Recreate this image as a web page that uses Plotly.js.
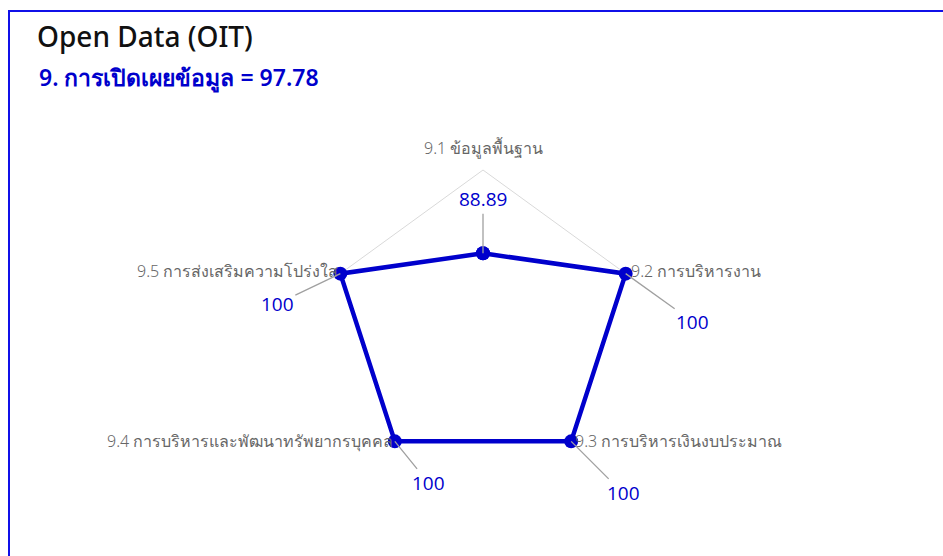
<!DOCTYPE html>
<html>
<head>
<meta charset="utf-8">
<script src="https://cdn.plot.ly/plotly-3.0.1.min.js"></script>
<style>
  html, body { margin: 0; padding: 0; background: #fff; }
  #chart { width: 943px; height: 556px; }
</style>
</head>
<body>
<div id="chart"></div>
<script>
// ---- data ----
const titleText = "Open Data (OIT)";
const subtitleText = "9. การเปิดเผยข้อมูล = 97.78";
const categories = [
  "9.1 ข้อมูลพื้นฐาน",
  "9.2 การบริหารงาน",
  "9.3 การบริหารเงินงบประมาณ",
  "9.4 การบริหารและพัฒนาทรัพยากรบุคคล",
  "9.5 การส่งเสริมความโปร่งใส"
];
const values = [88.89, 100, 100, 100, 100];
const valueLabels = ["88.89", "100", "100", "100", "100"];
const gridMax = 100;            // outer grid pentagon
const radialRange = [80, 101];  // small headroom so the line at 100 is not clipped

// ---- layout geometry (style) ----
const W = 943, H = 556;
const CX = 483, CY = 320, R100 = 150;
const Rfull = R100 * (radialRange[1] - radialRange[0]) / (gridMax - radialRange[0]);
const domX = [(CX - Rfull) / W, (CX + Rfull) / W];
const domY = [1 - (CY + Rfull) / H, 1 - (CY - Rfull) / H];
const BLUE = "#0000cc";

// label offsets in px (style, not data)
const labelOffsets = [[0, -54], [67, 48], [52, 52], [34, 42], [-63, 30]];
// category label placement (style)
const catPlace = [
  { xanchor: "center", yanchor: "middle", xshift: 0, yshift: 22 },
  { xanchor: "left", yanchor: "middle", xshift: 3, yshift: 3 },
  { xanchor: "left", yanchor: "middle", xshift: 2, yshift: 0 },
  { xanchor: "right", yanchor: "middle", xshift: 0, yshift: 0 },
  { xanchor: "right", yanchor: "middle", xshift: 0, yshift: 3 }
];

const gridTrace = {
  type: "scatterpolar",
  r: categories.map(() => gridMax).concat([gridMax]),
  theta: categories.concat([categories[0]]),
  mode: "lines",
  line: { color: "#d9d9d9", width: 1 },
  hoverinfo: "skip",
  showlegend: false
};

const trace = {
  type: "scatterpolar",
  r: values.concat([values[0]]),
  theta: categories.concat([categories[0]]),
  mode: "lines+markers",
  line: { color: BLUE, width: 4.5 },
  marker: { color: BLUE, size: 14 },
  cliponaxis: false,
  hoverinfo: "skip",
  showlegend: false
};

// compute positions from data via the polar geometry
const cx = (domX[0] + domX[1]) / 2 * W;
const cy = (1 - (domY[0] + domY[1]) / 2) * H;
const R = Math.min((domX[1] - domX[0]) * W, (domY[1] - domY[0]) * H) / 2;
function toPaper(v, i) {
  const ang = (90 - i * 360 / categories.length) * Math.PI / 180;
  const rp = (v - radialRange[0]) / (radialRange[1] - radialRange[0]) * R;
  return [(cx + rp * Math.cos(ang)) / W, 1 - (cy - rp * Math.sin(ang)) / H];
}

const annotations = [];
categories.forEach((c, i) => {
  const p = toPaper(gridMax, i);
  annotations.push(Object.assign({
    x: p[0], y: p[1], xref: "paper", yref: "paper",
    text: c, showarrow: false,
    font: { family: "Noto Sans, sans-serif", size: 16, color: "#666666", weight: 300 }
  }, catPlace[i]));
});
values.forEach((v, i) => {
  const p = toPaper(v, i);
  annotations.push({
    x: p[0], y: p[1], xref: "paper", yref: "paper",
    text: valueLabels[i],
    showarrow: true, arrowhead: 0, arrowwidth: 1.3, arrowcolor: "#a0a0a0",
    ax: labelOffsets[i][0], ay: labelOffsets[i][1],
    standoff: 0,
    font: { family: "Open Sans, sans-serif", size: 19, color: BLUE, weight: 500 }
  });
});

annotations.push({
  text: subtitleText,
  xref: "paper", yref: "paper",
  x: 37 / W, y: 1 - 77 / H, xanchor: "left", yanchor: "middle",
  showarrow: false,
  font: { family: "Noto Sans, sans-serif", size: 23, color: BLUE, weight: 600 }
});

const layout = {
  width: W, height: H,
  margin: { l: 0, r: 0, t: 0, b: 0 },
  paper_bgcolor: "#ffffff",
  title: {
    text: titleText,
    x: 37 / W, xref: "container", xanchor: "left",
    y: 1 - 37 / H, yref: "container", yanchor: "middle",
    font: { family: "Noto Sans, sans-serif", size: 28, color: "#111111", weight: 500 }
  },
  polar: {
    domain: { x: domX, y: domY },
    bgcolor: "#ffffff",
    gridshape: "linear",
    radialaxis: {
      visible: false, range: radialRange, showgrid: false, showline: false
    },
    angularaxis: {
      rotation: 90, direction: "clockwise",
      showgrid: false, showline: false, showticklabels: false,
      ticks: ""
    }
  },
  shapes: [{
    type: "rect", xref: "paper", yref: "paper",
    x0: 9 / W, x1: 1.05, y0: -0.05, y1: 1 - 11 / H,
    line: { color: "#1010e8", width: 2 }
  }],
  annotations: annotations
};

Plotly.newPlot("chart", [gridTrace, trace], layout, { displayModeBar: false, staticPlot: true });
</script>
</body>
</html>
